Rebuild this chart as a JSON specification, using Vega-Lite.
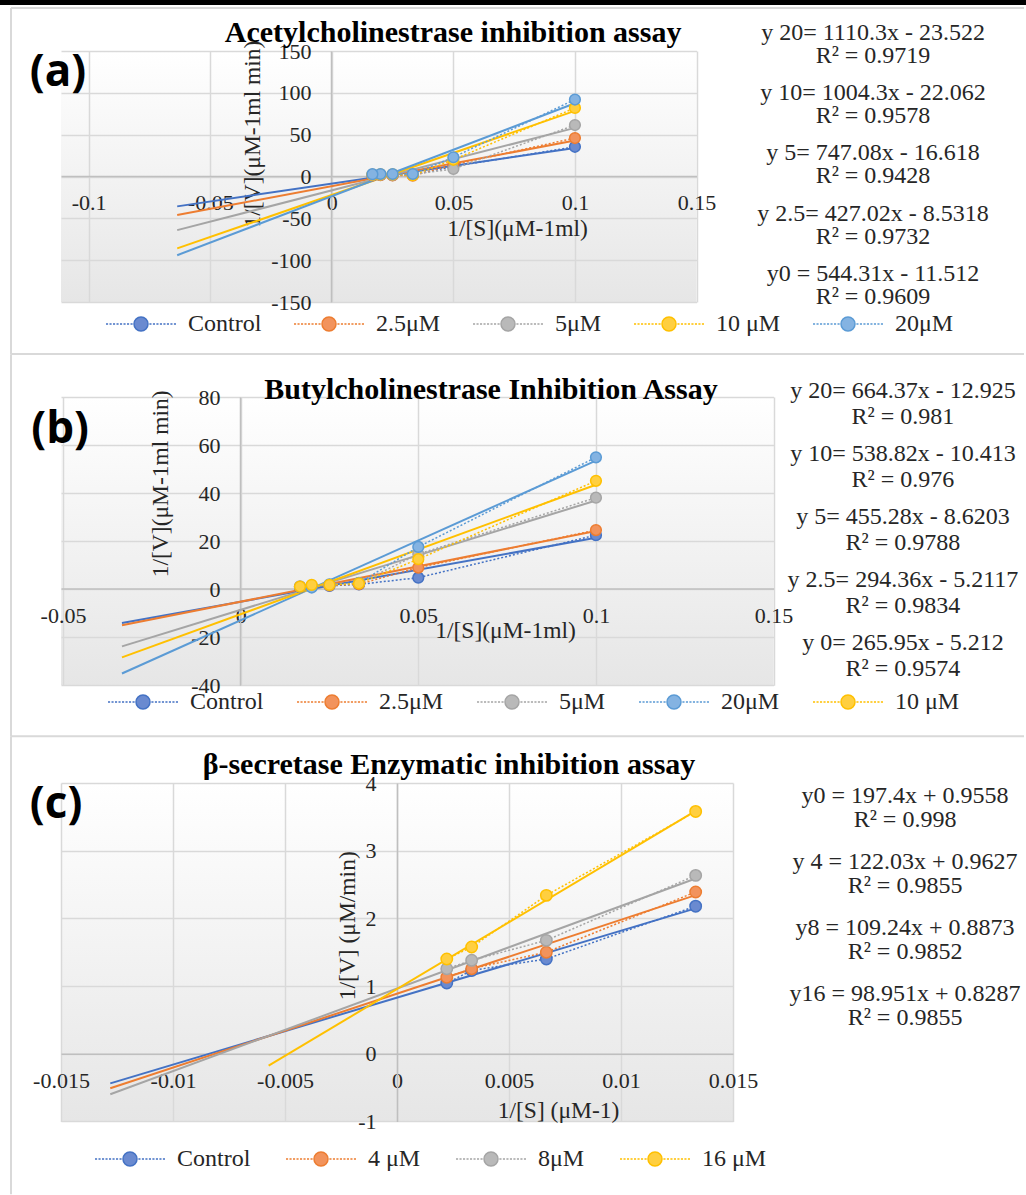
{
  "$schema": "https://vega.github.io/schema/vega-lite/v6.json",
  "padding": 0,
  "background": "white",
  "columns": 2,
  "bounds": "flush",
  "spacing": 0,
  "align": {"row": "each", "column": "each"},
  "config": {
    "view": {"stroke": null},
    "concat": {"spacing": 0},
    "axis": {"labelFont": "Liberation Serif", "titleFont": "Liberation Serif"},
    "legend": {"labelFont": "Liberation Serif"},
    "text": {"font": "Liberation Serif"}
  },
  "resolve": {
    "scale": {"fill": "independent", "stroke": "independent", "x": "independent", "y": "independent"},
    "legend": {"fill": "independent", "stroke": "independent"}
  },
  "datasets": {
    "frame": [{"part": "frame"}],
    "a_pts": [
      {"s": "Control", "x": 0.1, "y": 35.5}, {"s": "Control", "x": 0.05, "y": 12}, {"s": "Control", "x": 0.0333, "y": 2}, {"s": "Control", "x": 0.025, "y": 1.5}, {"s": "Control", "x": 0.02, "y": 1.8}, {"s": "Control", "x": 0.0167, "y": 1.5},
      {"s": "2.5μM", "x": 0.1, "y": 46}, {"s": "2.5μM", "x": 0.05, "y": 14}, {"s": "2.5μM", "x": 0.0333, "y": 1}, {"s": "2.5μM", "x": 0.025, "y": 1.2}, {"s": "2.5μM", "x": 0.02, "y": 1.6}, {"s": "2.5μM", "x": 0.0167, "y": 1.4},
      {"s": "5μM", "x": 0.1, "y": 61.5}, {"s": "5μM", "x": 0.05, "y": 9}, {"s": "5μM", "x": 0.0333, "y": 2.5}, {"s": "5μM", "x": 0.025, "y": 2}, {"s": "5μM", "x": 0.02, "y": 2.2}, {"s": "5μM", "x": 0.0167, "y": 2},
      {"s": "10 μM", "x": 0.1, "y": 82}, {"s": "10 μM", "x": 0.05, "y": 20}, {"s": "10 μM", "x": 0.0333, "y": 1.5}, {"s": "10 μM", "x": 0.025, "y": 2.5}, {"s": "10 μM", "x": 0.02, "y": 2.5}, {"s": "10 μM", "x": 0.0167, "y": 2.3},
      {"s": "20μM", "x": 0.1, "y": 92}, {"s": "20μM", "x": 0.05, "y": 23}, {"s": "20μM", "x": 0.0333, "y": 3}, {"s": "20μM", "x": 0.025, "y": 3}, {"s": "20μM", "x": 0.02, "y": 3}, {"s": "20μM", "x": 0.0167, "y": 2.8}
    ],
    "a_trend": [
      {"s": "Control", "x": -0.0636, "y": -35.7}, {"s": "Control", "x": 0.1, "y": 34.2},
      {"s": "2.5μM", "x": -0.0636, "y": -46.1}, {"s": "2.5μM", "x": 0.1, "y": 42.9},
      {"s": "5μM", "x": -0.0636, "y": -64.1}, {"s": "5μM", "x": 0.1, "y": 58.1},
      {"s": "10 μM", "x": -0.0636, "y": -85.9}, {"s": "10 μM", "x": 0.1, "y": 78.4},
      {"s": "20μM", "x": -0.0636, "y": -94.1}, {"s": "20μM", "x": 0.1, "y": 87.5}
    ],
    "a_eq": [
      {"k": 1, "eq": "y 20= 1110.3x - 23.522", "r2": "R² = 0.9719"},
      {"k": 2, "eq": "y 10= 1004.3x - 22.062", "r2": "R² = 0.9578"},
      {"k": 3, "eq": "y 5= 747.08x - 16.618", "r2": "R² = 0.9428"},
      {"k": 4, "eq": "y 2.5= 427.02x - 8.5318", "r2": "R² = 0.9732"},
      {"k": 5, "eq": "y0 = 544.31x - 11.512", "r2": "R² = 0.9609"}
    ],
    "b_pts": [
      {"s": "Control", "x": 0.1, "y": 22.5}, {"s": "Control", "x": 0.05, "y": 4.8}, {"s": "Control", "x": 0.0333, "y": 2.0}, {"s": "Control", "x": 0.025, "y": 1.4}, {"s": "Control", "x": 0.02, "y": 1.0}, {"s": "Control", "x": 0.0167, "y": 0.8},
      {"s": "2.5μM", "x": 0.1, "y": 24.6}, {"s": "2.5μM", "x": 0.05, "y": 9}, {"s": "2.5μM", "x": 0.0333, "y": 2.1}, {"s": "2.5μM", "x": 0.025, "y": 1.6}, {"s": "2.5μM", "x": 0.02, "y": 1.2}, {"s": "2.5μM", "x": 0.0167, "y": 1.0},
      {"s": "5μM", "x": 0.1, "y": 38.1}, {"s": "5μM", "x": 0.05, "y": 14.6}, {"s": "5μM", "x": 0.0333, "y": 2.5}, {"s": "5μM", "x": 0.025, "y": 1.8}, {"s": "5μM", "x": 0.02, "y": 1.5}, {"s": "5μM", "x": 0.0167, "y": 1.2},
      {"s": "20μM", "x": 0.1, "y": 54.9}, {"s": "20μM", "x": 0.05, "y": 17.6}, {"s": "20μM", "x": 0.0333, "y": 2.6}, {"s": "20μM", "x": 0.025, "y": 2.0}, {"s": "20μM", "x": 0.02, "y": 0.7}, {"s": "20μM", "x": 0.0167, "y": 1.0},
      {"s": "10 μM", "x": 0.1, "y": 45.1}, {"s": "10 μM", "x": 0.05, "y": 12.5}, {"s": "10 μM", "x": 0.0333, "y": 2.4}, {"s": "10 μM", "x": 0.025, "y": 1.8}, {"s": "10 μM", "x": 0.02, "y": 1.8}, {"s": "10 μM", "x": 0.0167, "y": 1.1}
    ],
    "b_trend": [
      {"s": "Control", "x": -0.0334, "y": -14.1}, {"s": "Control", "x": 0.1, "y": 21.4},
      {"s": "2.5μM", "x": -0.0334, "y": -15.0}, {"s": "2.5μM", "x": 0.1, "y": 24.2},
      {"s": "5μM", "x": -0.0334, "y": -23.8}, {"s": "5μM", "x": 0.1, "y": 36.9},
      {"s": "20μM", "x": -0.0334, "y": -35.1}, {"s": "20μM", "x": 0.1, "y": 53.5},
      {"s": "10 μM", "x": -0.0334, "y": -28.4}, {"s": "10 μM", "x": 0.1, "y": 43.5}
    ],
    "b_eq": [
      {"k": 1, "eq": "y 20= 664.37x - 12.925", "r2": "R² = 0.981"},
      {"k": 2, "eq": "y 10= 538.82x - 10.413", "r2": "R² = 0.976"},
      {"k": 3, "eq": "y 5= 455.28x - 8.6203", "r2": "R² = 0.9788"},
      {"k": 4, "eq": "y 2.5= 294.36x - 5.2117", "r2": "R² = 0.9834"},
      {"k": 5, "eq": "y 0= 265.95x - 5.212", "r2": "R² = 0.9574"}
    ],
    "c_pts": [
      {"s": "Control", "x": 0.002222, "y": 1.044}, {"s": "Control", "x": 0.003333, "y": 1.23}, {"s": "Control", "x": 0.006667, "y": 1.40}, {"s": "Control", "x": 0.013333, "y": 2.18},
      {"s": "4 μM", "x": 0.002222, "y": 1.13}, {"s": "4 μM", "x": 0.003333, "y": 1.256}, {"s": "4 μM", "x": 0.006667, "y": 1.50}, {"s": "4 μM", "x": 0.013333, "y": 2.39},
      {"s": "8μM", "x": 0.002222, "y": 1.256}, {"s": "8μM", "x": 0.003333, "y": 1.38}, {"s": "8μM", "x": 0.006667, "y": 1.675}, {"s": "8μM", "x": 0.013333, "y": 2.635},
      {"s": "16 μM", "x": 0.002222, "y": 1.40}, {"s": "16 μM", "x": 0.003333, "y": 1.576}, {"s": "16 μM", "x": 0.006667, "y": 2.34}, {"s": "16 μM", "x": 0.013333, "y": 3.58}
    ],
    "c_trend": [
      {"s": "Control", "x": -0.0128, "y": -0.438}, {"s": "Control", "x": 0.013333, "y": 2.148},
      {"s": "4 μM", "x": -0.0128, "y": -0.511}, {"s": "4 μM", "x": 0.013333, "y": 2.343},
      {"s": "8μM", "x": -0.0128, "y": -0.599}, {"s": "8μM", "x": 0.013333, "y": 2.589},
      {"s": "16 μM", "x": -0.00573, "y": -0.175}, {"s": "16 μM", "x": 0.013333, "y": 3.587}
    ],
    "c_eq": [
      {"k": 1, "eq": "y0 = 197.4x + 0.9558", "r2": "R² = 0.998"},
      {"k": 2, "eq": "y 4 = 122.03x + 0.9627", "r2": "R² = 0.9855"},
      {"k": 3, "eq": "y8 = 109.24x + 0.8873", "r2": "R² = 0.9852"},
      {"k": 4, "eq": "y16 = 98.951x + 0.8287", "r2": "R² = 0.9855"}
    ]
  },
  "concat": [
    {"width": 61, "height": 51, "data": {"values": []}, "mark": "point",
     "view": {"stroke": null, "fill": {"gradient": "linear", "x1": 0, "y1": 0, "x2": 0, "y2": 1, "stops": [{"offset": 0, "color": "#000000"}, {"offset": 0.098, "color": "#000000"}, {"offset": 0.099, "color": "#ffffff"}, {"offset": 1, "color": "#ffffff"}]}}},
    {"width": 965, "height": 5, "data": {"values": []}, "mark": "point", "view": {"fill": "#000000", "stroke": null}},

    {"width": 61, "height": 345.7, "data": {"values": []}, "mark": "point"},
    {
      "width": 635.5, "height": 251,
      "view": {"fill": {"gradient": "linear", "x1": 0, "y1": 0, "x2": 0, "y2": 1, "stops": [{"offset": 0, "color": "#ffffff"}, {"offset": 1, "color": "#e6e6e6"}]}, "stroke": null},
      "resolve": {"scale": {"y": "independent"}},
      "layer": [
        {
          "layer": [
            {
              "data": {"name": "frame"},
              "mark": {"type": "rule", "color": "#d9d9d9", "strokeWidth": 2},
              "encoding": {
                "x": {"datum": -0.13196, "type": "quantitative", "scale": {"domain": [-0.11139, 0.15], "nice": false, "zero": false}},
                "y": {"datum": 201.4, "type": "quantitative", "scale": {"domain": [-150, 150], "nice": false, "zero": false}},
                "y2": {"datum": -212.15}
              }
            },
            {
              "data": {"name": "frame"},
              "mark": {"type": "rule", "color": "#d9d9d9", "strokeWidth": 2},
              "encoding": {
                "x": {"datum": -0.13196, "type": "quantitative", "scale": {"domain": [-0.11139, 0.15], "nice": false, "zero": false}},
                "x2": {"datum": 0.28471},
                "y": {"datum": 201.4, "type": "quantitative", "scale": {"domain": [-150, 150], "nice": false, "zero": false}}
              }
            },
            {
              "data": {"name": "frame"},
              "mark": {"type": "rule", "color": "#d9d9d9", "strokeWidth": 2},
              "encoding": {
                "x": {"datum": -0.13196, "type": "quantitative", "scale": {"domain": [-0.11139, 0.15], "nice": false, "zero": false}},
                "x2": {"datum": 0.28471},
                "y": {"datum": -212.15, "type": "quantitative", "scale": {"domain": [-150, 150], "nice": false, "zero": false}}
              }
            },
            {
              "data": {"name": "a_trend"},
              "mark": {"type": "line", "strokeWidth": 2},
              "encoding": {
                "x": {"field": "x", "type": "quantitative", "scale": {"domain": [-0.11139, 0.15], "nice": false, "zero": false},
                  "axis": {"values": [-0.1, -0.05, 0, 0.05, 0.1, 0.15], "labelExpr": "'' + datum.value", "offset": -126, "ticks": false, "tickSize": 0, "labelPadding": 16, "labelFont": "Liberation Serif", "labelFontSize": 22, "labelColor": "#262626", "labelFlush": false, "labelOverlap": false, "domainColor": "#bfbfbf", "domainWidth": 1.5, "grid": true, "gridColor": "#d9d9d9", "gridWidth": 1.5, "title": "1/[S](μM-1ml)", "titleX": 456, "titleY": 52, "titleAlign": "center", "titleBaseline": "middle", "titleAngle": 0, "titleFont": "Liberation Serif", "titleFontSize": 23.5, "titleFontWeight": "normal", "titleColor": "#262626"}},
                "y": {"field": "y", "type": "quantitative", "scale": {"domain": [-150, 150], "nice": false, "zero": false},
                  "axis": {"values": [-150, -100, -50, 0, 50, 100, 150], "labelExpr": "'' + datum.value", "offset": -270, "ticks": false, "tickSize": 0, "labelPadding": 20, "labelFont": "Liberation Serif", "labelFontSize": 22, "labelColor": "#262626", "labelFlush": false, "labelOverlap": false, "domainColor": "#bfbfbf", "domainWidth": 1.5, "grid": true, "gridColor": "#d9d9d9", "gridWidth": 1.5, "title": "1/[V](μM-1ml min)", "titleX": -79, "titleY": 82.5, "titleAlign": "center", "titleBaseline": "middle", "titleAngle": -90, "titleFont": "Liberation Serif", "titleFontSize": 23.5, "titleFontWeight": "normal", "titleColor": "#262626"}},
                "stroke": {"field": "s", "type": "nominal", "scale": {"domain": ["Control", "2.5μM", "5μM", "10 μM", "20μM"], "range": ["#4472C4", "#ED7D31", "#A5A5A5", "#FFC000", "#5B9BD5"]},
                  "legend": {"orient": "none", "legendX": 68, "legendY": 261, "direction": "horizontal", "title": null, "symbolType": "M-1,0A1,1,0,1,0,1,0A1,1,0,1,0,-1,0ZM-5,0h0.3M-4.5,0h0.3M-4,0h0.3M-3.5,0h0.3M-3,0h0.3M-2.5,0h0.3M-2,0h0.3M-1.5,0h0.3M1.2,0h0.3M1.7,0h0.3M2.2,0h0.3M2.7,0h0.3M3.2,0h0.3M3.7,0h0.3M4.2,0h0.3M4.7,0h0.3", "symbolSize": 196, "symbolStrokeWidth": 1.5, "symbolOpacity": 1, "labelFont": "Liberation Serif", "labelFontSize": 24, "labelColor": "#262626", "labelOffset": 35, "columnPadding": 29, "labelLimit": 0, "padding": 0}}
              }
            },
            {
              "data": {"name": "a_pts"},
              "mark": {"type": "line", "strokeWidth": 1.5, "strokeDash": [2, 2]},
              "encoding": {
                "x": {"field": "x", "type": "quantitative", "scale": {"domain": [-0.11139, 0.15], "nice": false, "zero": false}},
                "y": {"field": "y", "type": "quantitative", "scale": {"domain": [-150, 150], "nice": false, "zero": false}},
                "stroke": {"field": "s", "type": "nominal", "scale": {"domain": ["Control", "2.5μM", "5μM", "10 μM", "20μM"], "range": ["#4472C4", "#ED7D31", "#A5A5A5", "#FFC000", "#5B9BD5"]}}
              }
            },
            {
              "data": {"name": "a_pts"},
              "mark": {"type": "point", "filled": true, "size": 115, "strokeWidth": 1.5, "opacity": 1},
              "encoding": {
                "x": {"field": "x", "type": "quantitative", "scale": {"domain": [-0.11139, 0.15], "nice": false, "zero": false}},
                "y": {"field": "y", "type": "quantitative", "scale": {"domain": [-150, 150], "nice": false, "zero": false}},
                "stroke": {"field": "s", "type": "nominal", "scale": {"domain": ["Control", "2.5μM", "5μM", "10 μM", "20μM"], "range": ["#4472C4", "#ED7D31", "#A5A5A5", "#FFC000", "#5B9BD5"]}},
                "fill": {"field": "s", "type": "nominal", "scale": {"domain": ["Control", "2.5μM", "5μM", "10 μM", "20μM"], "range": ["#6a8ad0", "#f2935c", "#b9b9b9", "#ffcf40", "#84b3e2"]},
                  "legend": {"orient": "none", "legendX": 68, "legendY": 261, "direction": "horizontal", "title": null, "symbolType": "M-1,0A1,1,0,1,0,1,0A1,1,0,1,0,-1,0ZM-5,0h0.3M-4.5,0h0.3M-4,0h0.3M-3.5,0h0.3M-3,0h0.3M-2.5,0h0.3M-2,0h0.3M-1.5,0h0.3M1.2,0h0.3M1.7,0h0.3M2.2,0h0.3M2.7,0h0.3M3.2,0h0.3M3.7,0h0.3M4.2,0h0.3M4.7,0h0.3", "symbolSize": 196, "symbolStrokeWidth": 1.5, "symbolOpacity": 1, "labelFont": "Liberation Serif", "labelFontSize": 24, "labelColor": "#262626", "labelOffset": 35, "columnPadding": 29, "labelLimit": 0, "padding": 0}}
              }
            },
            {
              "data": {"values": [{"lab": "(a)"}]},
              "mark": {"type": "text", "font": "Open Sans", "fontWeight": "bold", "fontSize": 44, "color": "#000000"},
              "encoding": {
                "x": {"datum": -0.1126, "type": "quantitative", "scale": {"domain": [-0.11139, 0.15], "nice": false, "zero": false}},
                "y": {"datum": 123.7, "type": "quantitative", "scale": {"domain": [-150, 150], "nice": false, "zero": false}},
                "text": {"field": "lab"}
              }
            },
            {
              "data": {"values": [{"t": "Acetylcholinestrase inhibition assay"}]},
              "mark": {"type": "text", "font": "Liberation Serif", "fontWeight": "bold", "fontSize": 30, "color": "#000000", "baseline": "middle"},
              "encoding": {
                "x": {"datum": 0.0499, "type": "quantitative", "scale": {"domain": [-0.11139, 0.15], "nice": false, "zero": false}},
                "y": {"datum": 171.5, "type": "quantitative", "scale": {"domain": [-150, 150], "nice": false, "zero": false}},
                "text": {"field": "t"}
              }
            }
          ]
        },
        {
          "data": {"name": "a_eq"},
          "mark": {"type": "text", "font": "Liberation Serif", "fontSize": 24, "color": "#262626", "align": "center", "baseline": "middle", "dy": -11.5},
          "encoding": {
            "x": {"datum": 0.2226, "type": "quantitative", "scale": {"domain": [-0.11139, 0.15], "nice": false, "zero": false}},
            "y": {"field": "k", "type": "quantitative", "scale": {"domain": [1.111, 5.277], "reverse": true, "nice": false, "zero": false}, "axis": null},
            "text": {"field": "eq"}
          }
        },
        {
          "data": {"name": "a_eq"},
          "mark": {"type": "text", "font": "Liberation Serif", "fontSize": 24, "color": "#262626", "align": "center", "baseline": "middle", "dy": 11.5},
          "encoding": {
            "x": {"datum": 0.2226, "type": "quantitative", "scale": {"domain": [-0.11139, 0.15], "nice": false, "zero": false}},
            "y": {"field": "k", "type": "quantitative", "scale": {"domain": [1.111, 5.277], "reverse": true, "nice": false, "zero": false}, "axis": null},
            "text": {"field": "r2"}
          }
        }
      ]
    },

    {"width": 61, "height": 386, "data": {"values": []}, "mark": "point"},
    {
      "width": 712.6, "height": 288.3,
      "view": {"fill": {"gradient": "linear", "x1": 0, "y1": 0, "x2": 0, "y2": 1, "stops": [{"offset": 0, "color": "#ffffff"}, {"offset": 1, "color": "#e6e6e6"}]}, "stroke": null},
      "resolve": {"scale": {"y": "independent"}},
      "layer": [
        {
          "layer": [
            {
              "data": {"name": "frame"},
              "mark": {"type": "rule", "color": "#d9d9d9", "strokeWidth": 2},
              "encoding": {
                "x": {"datum": -0.06463, "type": "quantitative", "scale": {"domain": [-0.05056, 0.15], "nice": false, "zero": false}},
                "y": {"datum": 97.77, "type": "quantitative", "scale": {"domain": [-40, 80], "nice": false, "zero": false}},
                "y2": {"datum": -61.23}
              }
            },
            {
              "data": {"name": "frame"},
              "mark": {"type": "rule", "color": "#d9d9d9", "strokeWidth": 2},
              "encoding": {
                "x": {"datum": -0.06463, "type": "quantitative", "scale": {"domain": [-0.05056, 0.15], "nice": false, "zero": false}},
                "x2": {"datum": 0.22048},
                "y": {"datum": -61.23, "type": "quantitative", "scale": {"domain": [-40, 80], "nice": false, "zero": false}}
              }
            },
            {
              "data": {"name": "b_trend"},
              "mark": {"type": "line", "strokeWidth": 2},
              "encoding": {
                "x": {"field": "x", "type": "quantitative", "scale": {"domain": [-0.05056, 0.15], "nice": false, "zero": false},
                  "axis": {"values": [-0.05, 0, 0.05, 0.1, 0.15], "labelExpr": "'' + datum.value", "offset": -96.7, "ticks": false, "tickSize": 0, "labelPadding": 17, "labelFont": "Liberation Serif", "labelFontSize": 22, "labelColor": "#262626", "labelFlush": false, "labelOverlap": false, "domainColor": "#bfbfbf", "domainWidth": 1.5, "grid": true, "gridColor": "#d9d9d9", "gridWidth": 1.5, "title": "1/[S](μM-1ml)", "titleX": 444, "titleY": 41.7, "titleAlign": "center", "titleBaseline": "middle", "titleAngle": 0, "titleFont": "Liberation Serif", "titleFontSize": 23.5, "titleFontWeight": "normal", "titleColor": "#262626"}},
                "y": {"field": "y", "type": "quantitative", "scale": {"domain": [-40, 80], "nice": false, "zero": false},
                  "axis": {"values": [-40, -20, 0, 20, 40, 60, 80], "labelExpr": "'' + datum.value", "offset": -179, "ticks": false, "tickSize": 0, "labelPadding": 20, "labelFont": "Liberation Serif", "labelFontSize": 22, "labelColor": "#262626", "labelFlush": false, "labelOverlap": false, "domainColor": "#bfbfbf", "domainWidth": 1.5, "grid": true, "gridColor": "#d9d9d9", "gridWidth": 1.5, "title": "1/[V](μM-1ml min)", "titleX": -80, "titleY": 86.3, "titleAlign": "center", "titleBaseline": "middle", "titleAngle": -90, "titleFont": "Liberation Serif", "titleFontSize": 23.5, "titleFontWeight": "normal", "titleColor": "#262626"}},
                "stroke": {"field": "s", "type": "nominal", "scale": {"domain": ["Control", "2.5μM", "5μM", "20μM", "10 μM"], "range": ["#4472C4", "#ED7D31", "#A5A5A5", "#5B9BD5", "#FFC000"]},
                  "legend": {"orient": "none", "legendX": 70, "legendY": 293, "direction": "horizontal", "title": null, "symbolType": "M-1,0A1,1,0,1,0,1,0A1,1,0,1,0,-1,0ZM-5,0h0.3M-4.5,0h0.3M-4,0h0.3M-3.5,0h0.3M-3,0h0.3M-2.5,0h0.3M-2,0h0.3M-1.5,0h0.3M1.2,0h0.3M1.7,0h0.3M2.2,0h0.3M2.7,0h0.3M3.2,0h0.3M3.7,0h0.3M4.2,0h0.3M4.7,0h0.3", "symbolSize": 196, "symbolStrokeWidth": 1.5, "symbolOpacity": 1, "labelFont": "Liberation Serif", "labelFontSize": 24, "labelColor": "#262626", "labelOffset": 35, "columnPadding": 30, "labelLimit": 0, "padding": 0}}
              }
            },
            {
              "data": {"name": "b_pts"},
              "mark": {"type": "line", "strokeWidth": 1.5, "strokeDash": [2, 2]},
              "encoding": {
                "x": {"field": "x", "type": "quantitative", "scale": {"domain": [-0.05056, 0.15], "nice": false, "zero": false}},
                "y": {"field": "y", "type": "quantitative", "scale": {"domain": [-40, 80], "nice": false, "zero": false}},
                "stroke": {"field": "s", "type": "nominal", "scale": {"domain": ["Control", "2.5μM", "5μM", "20μM", "10 μM"], "range": ["#4472C4", "#ED7D31", "#A5A5A5", "#5B9BD5", "#FFC000"]}}
              }
            },
            {
              "data": {"name": "b_pts"},
              "mark": {"type": "point", "filled": true, "size": 115, "strokeWidth": 1.5, "opacity": 1},
              "encoding": {
                "x": {"field": "x", "type": "quantitative", "scale": {"domain": [-0.05056, 0.15], "nice": false, "zero": false}},
                "y": {"field": "y", "type": "quantitative", "scale": {"domain": [-40, 80], "nice": false, "zero": false}},
                "stroke": {"field": "s", "type": "nominal", "scale": {"domain": ["Control", "2.5μM", "5μM", "20μM", "10 μM"], "range": ["#4472C4", "#ED7D31", "#A5A5A5", "#5B9BD5", "#FFC000"]}},
                "fill": {"field": "s", "type": "nominal", "scale": {"domain": ["Control", "2.5μM", "5μM", "20μM", "10 μM"], "range": ["#6a8ad0", "#f2935c", "#b9b9b9", "#84b3e2", "#ffcf40"]},
                  "legend": {"orient": "none", "legendX": 70, "legendY": 293, "direction": "horizontal", "title": null, "symbolType": "M-1,0A1,1,0,1,0,1,0A1,1,0,1,0,-1,0ZM-5,0h0.3M-4.5,0h0.3M-4,0h0.3M-3.5,0h0.3M-3,0h0.3M-2.5,0h0.3M-2,0h0.3M-1.5,0h0.3M1.2,0h0.3M1.7,0h0.3M2.2,0h0.3M2.7,0h0.3M3.2,0h0.3M3.7,0h0.3M4.2,0h0.3M4.7,0h0.3", "symbolSize": 196, "symbolStrokeWidth": 1.5, "symbolOpacity": 1, "labelFont": "Liberation Serif", "labelFontSize": 24, "labelColor": "#262626", "labelOffset": 35, "columnPadding": 30, "labelLimit": 0, "padding": 0}}
              }
            },
            {
              "data": {"values": [{"lab": "(b)"}]},
              "mark": {"type": "text", "font": "Open Sans", "fontWeight": "bold", "fontSize": 44, "color": "#000000"},
              "encoding": {
                "x": {"datum": -0.0508, "type": "quantitative", "scale": {"domain": [-0.05056, 0.15], "nice": false, "zero": false}},
                "y": {"datum": 66.1, "type": "quantitative", "scale": {"domain": [-40, 80], "nice": false, "zero": false}},
                "text": {"field": "lab"}
              }
            },
            {
              "data": {"values": [{"t": "Butylcholinestrase Inhibition Assay"}]},
              "mark": {"type": "text", "font": "Liberation Serif", "fontWeight": "bold", "fontSize": 30, "color": "#000000", "baseline": "middle"},
              "encoding": {
                "x": {"datum": 0.07046, "type": "quantitative", "scale": {"domain": [-0.05056, 0.15], "nice": false, "zero": false}},
                "y": {"datum": 82.8, "type": "quantitative", "scale": {"domain": [-40, 80], "nice": false, "zero": false}},
                "text": {"field": "t"}
              }
            }
          ]
        },
        {
          "data": {"name": "b_eq"},
          "mark": {"type": "text", "font": "Liberation Serif", "fontSize": 24, "color": "#262626", "align": "center", "baseline": "middle", "dy": -13},
          "encoding": {
            "x": {"datum": 0.1864, "type": "quantitative", "scale": {"domain": [-0.05056, 0.15], "nice": false, "zero": false}},
            "y": {"field": "k", "type": "quantitative", "scale": {"domain": [0.8956, 5.4576], "reverse": true, "nice": false, "zero": false}, "axis": null},
            "text": {"field": "eq"}
          }
        },
        {
          "data": {"name": "b_eq"},
          "mark": {"type": "text", "font": "Liberation Serif", "fontSize": 24, "color": "#262626", "align": "center", "baseline": "middle", "dy": 13},
          "encoding": {
            "x": {"datum": 0.1864, "type": "quantitative", "scale": {"domain": [-0.05056, 0.15], "nice": false, "zero": false}},
            "y": {"field": "k", "type": "quantitative", "scale": {"domain": [0.8956, 5.4576], "reverse": true, "nice": false, "zero": false}, "axis": null},
            "text": {"field": "r2"}
          }
        }
      ]
    },

    {"width": 61, "height": 411, "data": {"values": []}, "mark": "point"},
    {
      "width": 672, "height": 338.4,
      "view": {"fill": {"gradient": "linear", "x1": 0, "y1": 0, "x2": 0, "y2": 1, "stops": [{"offset": 0, "color": "#ffffff"}, {"offset": 1, "color": "#e6e6e6"}]}, "stroke": null},
      "resolve": {"scale": {"y": "independent"}},
      "layer": [
        {
          "layer": [
            {
              "data": {"name": "frame"},
              "mark": {"type": "rule", "color": "#d9d9d9", "strokeWidth": 2},
              "encoding": {
                "x": {"datum": -0.017232, "type": "quantitative", "scale": {"domain": [-0.015, 0.015], "nice": false, "zero": false}},
                "y": {"datum": 4.69, "type": "quantitative", "scale": {"domain": [-1, 4], "nice": false, "zero": false}},
                "y2": {"datum": -2.0771}
              }
            },
            {
              "data": {"name": "c_trend"},
              "mark": {"type": "line", "strokeWidth": 2},
              "encoding": {
                "x": {"field": "x", "type": "quantitative", "scale": {"domain": [-0.015, 0.015], "nice": false, "zero": false},
                  "axis": {"values": [-0.015, -0.01, -0.005, 0, 0.005, 0.01, 0.015], "labelExpr": "'' + datum.value", "offset": -67.7, "ticks": false, "tickSize": 0, "labelPadding": 17, "labelFont": "Liberation Serif", "labelFontSize": 22, "labelColor": "#262626", "labelFlush": false, "labelOverlap": false, "domainColor": "#bfbfbf", "domainWidth": 1.5, "grid": true, "gridColor": "#d9d9d9", "gridWidth": 1.5, "title": "1/[S] (μM-1)", "titleX": 497, "titleY": 56.7, "titleAlign": "center", "titleBaseline": "middle", "titleAngle": 0, "titleFont": "Liberation Serif", "titleFontSize": 23.5, "titleFontWeight": "normal", "titleColor": "#262626"}},
                "y": {"field": "y", "type": "quantitative", "scale": {"domain": [-1, 4], "nice": false, "zero": false},
                  "axis": {"values": [-1, 0, 1, 2, 3, 4], "labelExpr": "'' + datum.value", "offset": -336, "ticks": false, "tickSize": 0, "labelPadding": 21, "labelFont": "Liberation Serif", "labelFontSize": 22, "labelColor": "#262626", "labelFlush": false, "labelOverlap": false, "domainColor": "#bfbfbf", "domainWidth": 1.5, "grid": true, "gridColor": "#d9d9d9", "gridWidth": 1.5, "title": "1/[V] (μM/min)", "titleX": -50, "titleY": 142.3, "titleAlign": "center", "titleBaseline": "middle", "titleAngle": -90, "titleFont": "Liberation Serif", "titleFontSize": 23.5, "titleFontWeight": "normal", "titleColor": "#262626"}},
                "stroke": {"field": "s", "type": "nominal", "scale": {"domain": ["Control", "4 μM", "8μM", "16 μM"], "range": ["#4472C4", "#ED7D31", "#A5A5A5", "#FFC000"]},
                  "legend": {"orient": "none", "legendX": 57, "legendY": 364, "direction": "horizontal", "title": null, "symbolType": "M-1,0A1,1,0,1,0,1,0A1,1,0,1,0,-1,0ZM-5,0h0.3M-4.5,0h0.3M-4,0h0.3M-3.5,0h0.3M-3,0h0.3M-2.5,0h0.3M-2,0h0.3M-1.5,0h0.3M1.2,0h0.3M1.7,0h0.3M2.2,0h0.3M2.7,0h0.3M3.2,0h0.3M3.7,0h0.3M4.2,0h0.3M4.7,0h0.3", "symbolSize": 196, "symbolStrokeWidth": 1.5, "symbolOpacity": 1, "labelFont": "Liberation Serif", "labelFontSize": 24, "labelColor": "#262626", "labelOffset": 35, "columnPadding": 32, "labelLimit": 0, "padding": 0}}
              }
            },
            {
              "data": {"name": "c_pts"},
              "mark": {"type": "line", "strokeWidth": 1.5, "strokeDash": [2, 2]},
              "encoding": {
                "x": {"field": "x", "type": "quantitative", "scale": {"domain": [-0.015, 0.015], "nice": false, "zero": false}},
                "y": {"field": "y", "type": "quantitative", "scale": {"domain": [-1, 4], "nice": false, "zero": false}},
                "stroke": {"field": "s", "type": "nominal", "scale": {"domain": ["Control", "4 μM", "8μM", "16 μM"], "range": ["#4472C4", "#ED7D31", "#A5A5A5", "#FFC000"]}}
              }
            },
            {
              "data": {"name": "c_pts"},
              "mark": {"type": "point", "filled": true, "size": 130, "strokeWidth": 1.5, "opacity": 1},
              "encoding": {
                "x": {"field": "x", "type": "quantitative", "scale": {"domain": [-0.015, 0.015], "nice": false, "zero": false}},
                "y": {"field": "y", "type": "quantitative", "scale": {"domain": [-1, 4], "nice": false, "zero": false}},
                "stroke": {"field": "s", "type": "nominal", "scale": {"domain": ["Control", "4 μM", "8μM", "16 μM"], "range": ["#4472C4", "#ED7D31", "#A5A5A5", "#FFC000"]}},
                "fill": {"field": "s", "type": "nominal", "scale": {"domain": ["Control", "4 μM", "8μM", "16 μM"], "range": ["#6a8ad0", "#f2935c", "#b9b9b9", "#ffcf40"]},
                  "legend": {"orient": "none", "legendX": 57, "legendY": 364, "direction": "horizontal", "title": null, "symbolType": "M-1,0A1,1,0,1,0,1,0A1,1,0,1,0,-1,0ZM-5,0h0.3M-4.5,0h0.3M-4,0h0.3M-3.5,0h0.3M-3,0h0.3M-2.5,0h0.3M-2,0h0.3M-1.5,0h0.3M1.2,0h0.3M1.7,0h0.3M2.2,0h0.3M2.7,0h0.3M3.2,0h0.3M3.7,0h0.3M4.2,0h0.3M4.7,0h0.3", "symbolSize": 196, "symbolStrokeWidth": 1.5, "symbolOpacity": 1, "labelFont": "Liberation Serif", "labelFontSize": 24, "labelColor": "#262626", "labelOffset": 35, "columnPadding": 32, "labelLimit": 0, "padding": 0}}
              }
            },
            {
              "data": {"values": [{"lab": "(c)"}]},
              "mark": {"type": "text", "font": "Open Sans", "fontWeight": "bold", "fontSize": 44, "color": "#000000"},
              "encoding": {
                "x": {"datum": -0.01522, "type": "quantitative", "scale": {"domain": [-0.015, 0.015], "nice": false, "zero": false}},
                "y": {"datum": 3.67, "type": "quantitative", "scale": {"domain": [-1, 4], "nice": false, "zero": false}},
                "text": {"field": "lab"}
              }
            },
            {
              "data": {"values": [{"t": "β-secretase Enzymatic inhibition assay"}]},
              "mark": {"type": "text", "font": "Liberation Serif", "fontWeight": "bold", "fontSize": 30, "color": "#000000", "baseline": "middle"},
              "encoding": {
                "x": {"datum": 0.002321, "type": "quantitative", "scale": {"domain": [-0.015, 0.015], "nice": false, "zero": false}},
                "y": {"datum": 4.2615, "type": "quantitative", "scale": {"domain": [-1, 4], "nice": false, "zero": false}},
                "text": {"field": "t"}
              }
            }
          ]
        },
        {
          "data": {"name": "c_eq"},
          "mark": {"type": "text", "font": "Liberation Serif", "fontSize": 24, "color": "#262626", "align": "center", "baseline": "middle", "dy": -12},
          "encoding": {
            "x": {"datum": 0.02268, "type": "quantitative", "scale": {"domain": [-0.015, 0.015], "nice": false, "zero": false}},
            "y": {"field": "k", "type": "quantitative", "scale": {"domain": [0.619, 5.758], "reverse": true, "nice": false, "zero": false}, "axis": null},
            "text": {"field": "eq"}
          }
        },
        {
          "data": {"name": "c_eq"},
          "mark": {"type": "text", "font": "Liberation Serif", "fontSize": 24, "color": "#262626", "align": "center", "baseline": "middle", "dy": 12},
          "encoding": {
            "x": {"datum": 0.02268, "type": "quantitative", "scale": {"domain": [-0.015, 0.015], "nice": false, "zero": false}},
            "y": {"field": "k", "type": "quantitative", "scale": {"domain": [0.619, 5.758], "reverse": true, "nice": false, "zero": false}, "axis": null},
            "text": {"field": "r2"}
          }
        }
      ]
    }
  ]
}
